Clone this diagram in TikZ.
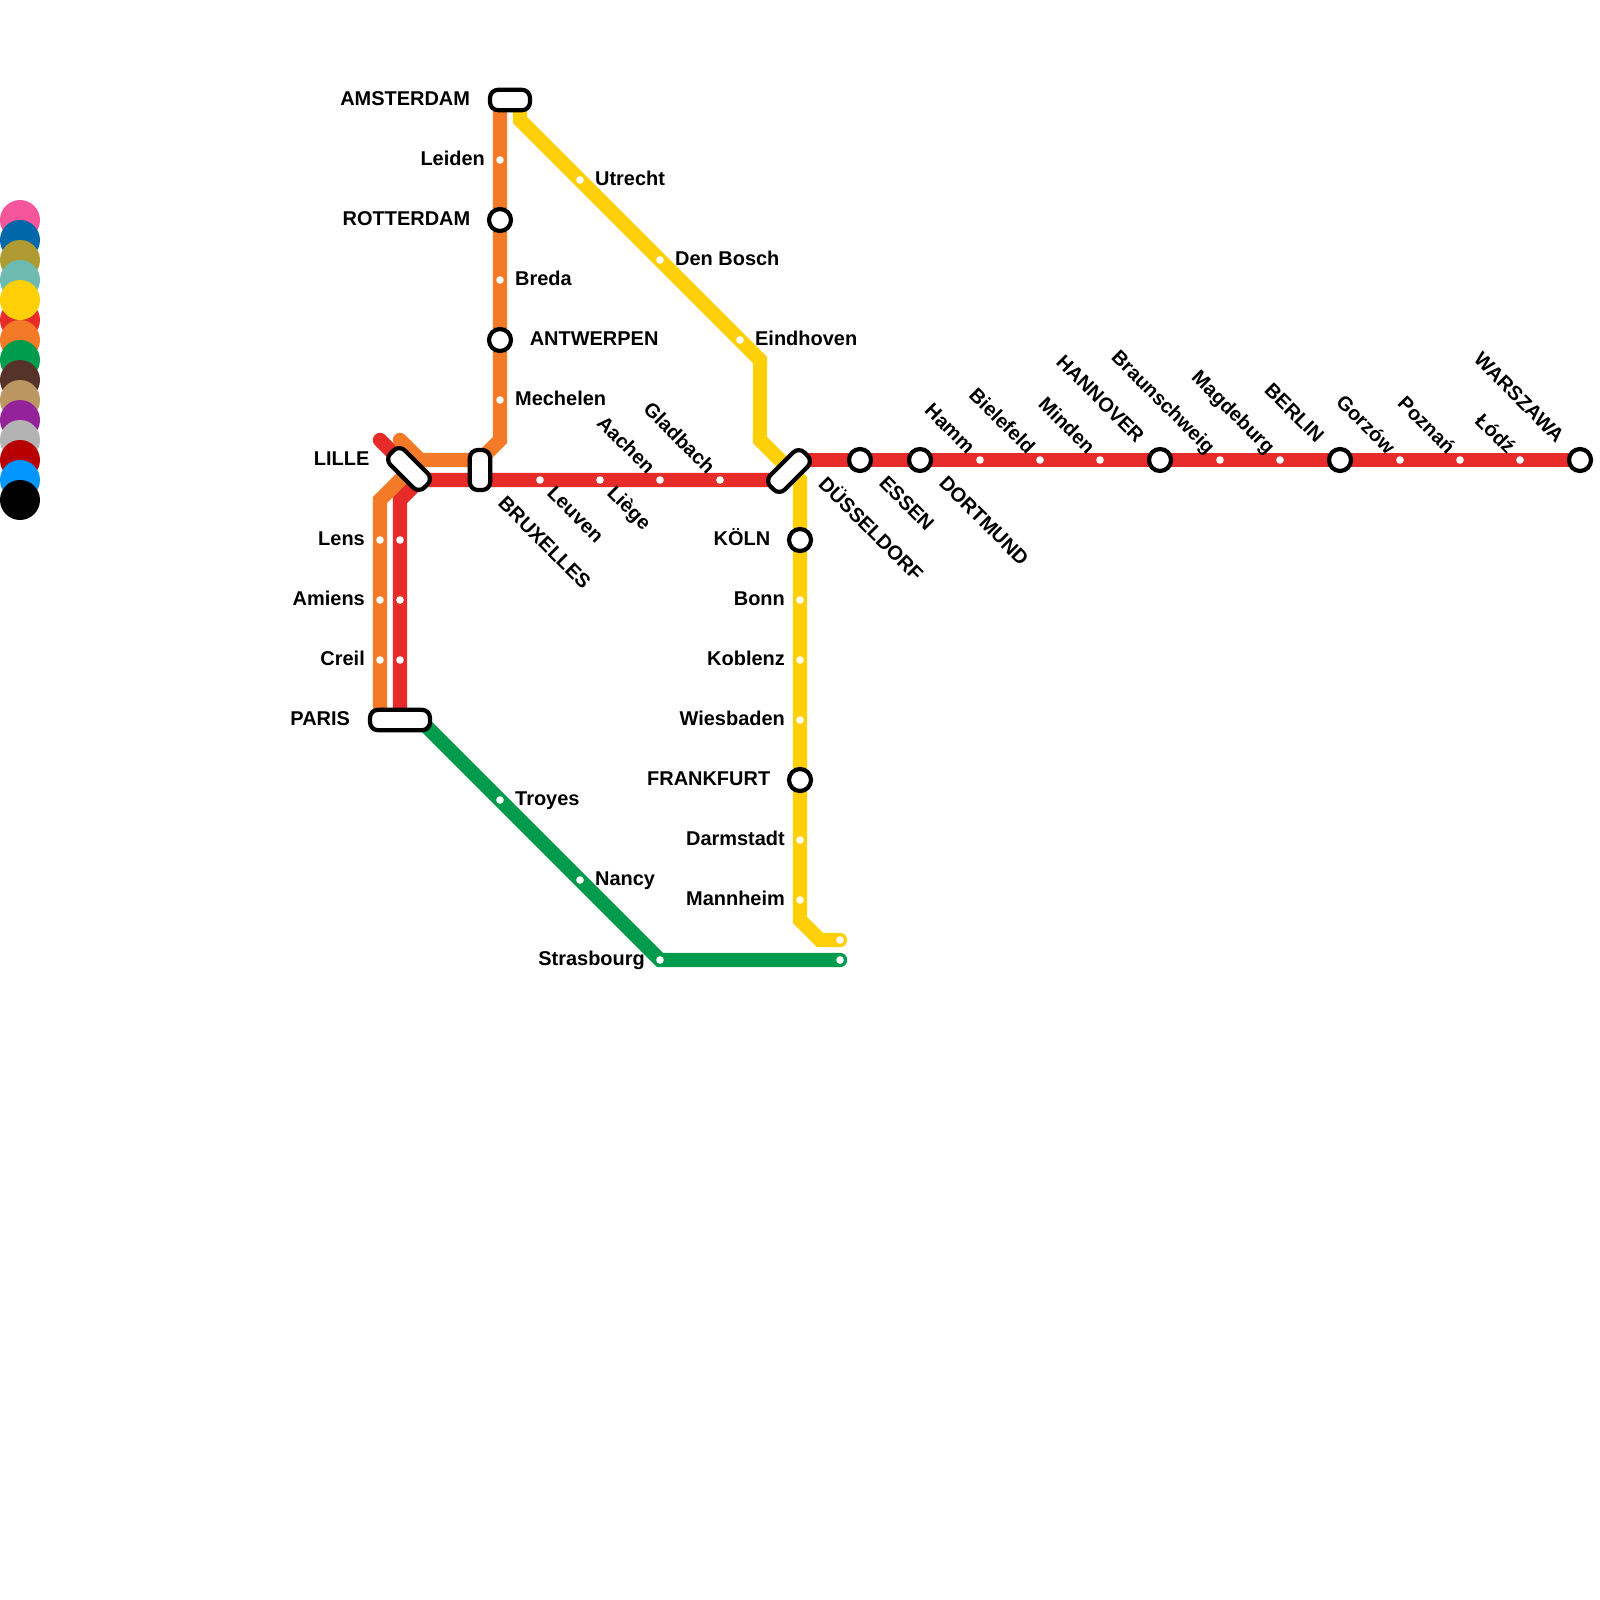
\documentclass[tikz,border=0pt]{standalone}
\usepackage{fontspec}
\setmainfont{Liberation Sans}
\usetikzlibrary{positioning,backgrounds}
\definecolor{pink}{HTML}{F4559B}
\definecolor{blue}{HTML}{0067A8}
\definecolor{olive}{HTML}{B09B33}
\definecolor{teal}{HTML}{6DBBB0}
\definecolor{yellow}{HTML}{FFD007}
\definecolor{red}{HTML}{E62B28}
\definecolor{orange}{HTML}{F47A28}
\definecolor{green}{HTML}{009C4D}
\definecolor{brown}{HTML}{55332B}
\definecolor{tan}{HTML}{BC9660}
\definecolor{purple}{HTML}{93229B}
\definecolor{grey}{HTML}{B3B3B3}
\definecolor{darkred}{HTML}{B90000}
\definecolor{skyblue}{HTML}{0095FF}
\tikzset{route/.style={line width=0.36cm,line cap=round,miter limit=4},
  swatch/.style={circle,minimum size=1cm,inner sep=0pt},
  halt/.style={circle,fill=white,minimum size=0.19cm,inner sep=0pt},
  hub/.style={circle,draw=black,line width=0.105cm,fill=white,minimum size=0.55cm,inner sep=0pt},
  pill/.style={rectangle,rounded corners=0.2cm,draw=black,line width=0.105cm,fill=white,minimum height=0.51cm,inner sep=0pt},
  lbl/.style={font=\fontsize{14.2}{16}\bfseries,text=black,inner sep=0pt,text height=0.36cm,text depth=0pt},
  lblside/.style={lbl,yshift=0.05cm},
  lbldown/.style={lbl,rotate=-45,anchor=west},
  lblup/.style={lbl,rotate=-45,anchor=east}}
\begin{document}
\begin{tikzpicture}[x=0.5cm,y=-0.5cm]
\useasboundingbox (0,0) rectangle (80,80);
% legend
\node[swatch,fill=pink] (swatchpink) at (1,11) {};
\node[swatch,fill=blue] (swatchblue) at (1,12) {};
\node[swatch,fill=olive] (swatcholive) at (1,13) {};
\node[swatch,fill=teal] (swatchteal) at (1,14) {};
\node[swatch,fill=red] (swatchred) at (1,16) {};
\node[swatch,fill=yellow] (swatchyellow) at (1,15) {};
\node[swatch,fill=orange] (swatchorange) at (1,17) {};
\node[swatch,fill=green] (swatchgreen) at (1,18) {};
\node[swatch,fill=brown] (swatchbrown) at (1,19) {};
\node[swatch,fill=tan] (swatchtan) at (1,20) {};
\node[swatch,fill=purple] (swatchpurple) at (1,21) {};
\node[swatch,fill=grey] (swatchgrey) at (1,22) {};
\node[swatch,fill=darkred] (swatchdarkred) at (1,23) {};
\node[swatch,fill=skyblue] (swatchskyblue) at (1,24) {};
\node[swatch,fill=black] (swatchblack) at (1,25) {};
% interchanges
\node[pill,minimum width=1.0cm] (amsterdam) at (25.5,5) {};
\node[pill,minimum width=1.2cm,rotate=-45] (lille) at (20.45,23.45) {};
\node[pill,minimum width=1.0cm,rotate=90] (bruxelles) at (24,23.5) {};
\node[pill,minimum width=1.2cm,rotate=45] (dusseldorf) at (39.45,23.55) {};
\node[pill,minimum width=1.5cm] (paris) at (20,36) {};
\coordinate (amsterdamw) at (25,5);
\coordinate (amsterdame) at (26,5);
\coordinate (lillenw) at (20,23);
\coordinate (lillese) at (21,24);
\coordinate (bruxellesn) at (24,23);
\coordinate (bruxelless) at (24,24);
\coordinate (dusseldorfsw) at (39,24);
\coordinate (dusseldorfne) at (40,23);
\coordinate (parisw) at (19,36);
\coordinate (parisc) at (20,36);
\coordinate (parise) at (21,36);
\coordinate (redstub) at (19,22);
\coordinate (orangestub) at (20,22);
% orange and red through France
\node[halt] (lensa) at (19,27) {};
\node[halt] (amiensa) at (19,30) {};
\node[halt] (creila) at (19,33) {};
\node[halt] (lensb) at (20,27) {};
\node[halt] (amiensb) at (20,30) {};
\node[halt] (creilb) at (20,33) {};
\node[lblside,left=0.27cm of lensa] (lenslbl) {Lens};
\node[lblside,left=0.27cm of amiensa] (amienslbl) {Amiens};
\node[lblside,left=0.27cm of creila] (creillbl) {Creil};
\node[lblside,left=0.44cm of paris] (parislbl) {PARIS};
\node[lblside,left=0.76cm of lillenw] (lillelbl) {LILLE};
\node[lbldown,xshift=0.91cm,yshift=-0.13cm] (bruxelleslbl) at (bruxelles) {BRUXELLES};
% orange to Amsterdam
\node[halt] (leiden) at (25,8) {};
\node[hub] (rotterdam) at (25,11) {};
\node[halt] (breda) at (25,14) {};
\node[hub] (antwerpen) at (25,17) {};
\node[halt] (mechelen) at (25,20) {};
\node[lblside,left=0.44cm of amsterdam] (amsterdamlbl) {AMSTERDAM};
\node[lblside,left=0.27cm of leiden] (leidenlbl) {Leiden};
\node[lblside,left=0.41cm of rotterdam] (rotterdamlbl) {ROTTERDAM};
\node[lblside,right=0.27cm of breda] (bredalbl) {Breda};
\node[lblside,right=0.41cm of antwerpen] (antwerpenlbl) {ANTWERPEN};
\node[lblside,right=0.27cm of mechelen] (mechelenlbl) {Mechelen};
% red to Warszawa
\node[halt] (leuven) at (27,24) {};
\node[halt] (liege) at (30,24) {};
\node[halt] (aachen) at (33,24) {};
\node[halt] (gladbach) at (36,24) {};
\node[hub] (essen) at (43,23) {};
\node[hub] (dortmund) at (46,23) {};
\node[halt] (hamm) at (49,23) {};
\node[halt] (bielefeld) at (52,23) {};
\node[halt] (minden) at (55,23) {};
\node[hub] (hannover) at (58,23) {};
\node[halt] (braunschweig) at (61,23) {};
\node[halt] (magdeburg) at (64,23) {};
\node[hub] (berlin) at (67,23) {};
\node[halt] (gorzow) at (70,23) {};
\node[halt] (poznan) at (73,23) {};
\node[halt] (lodz) at (76,23) {};
\node[hub] (warszawa) at (79,23) {};
\node[lbldown,xshift=0.35cm,yshift=0.035cm] (leuvenlbl) at (leuven) {Leuven};
\node[lbldown,xshift=0.35cm,yshift=0.035cm] (liegelbl) at (liege) {Liège};
\node[lblup,xshift=-0.315cm,yshift=0.035cm] (aachenlbl) at (aachen) {Aachen};
\node[lblup,xshift=-0.315cm,yshift=0.035cm] (gladbachlbl) at (gladbach) {Gladbach};
\node[lbldown,xshift=0.75cm,yshift=0.43cm] (dusseldorflbl) at (dusseldorf) {DÜSSELDORF};
\node[lbldown,xshift=0.74cm,yshift=0.07cm] (essenlbl) at (essen) {ESSEN};
\node[lbldown,xshift=0.74cm,yshift=0.07cm] (dortmundlbl) at (dortmund) {DORTMUND};
\node[lblup,xshift=-0.315cm,yshift=0.035cm] (hammlbl) at (hamm) {Hamm};
\node[lblup,xshift=-0.315cm,yshift=0.035cm] (bielefeldlbl) at (bielefeld) {Bielefeld};
\node[lblup,xshift=-0.315cm,yshift=0.035cm] (mindenlbl) at (minden) {Minden};
\node[lblup,xshift=-0.7cm,yshift=0.035cm] (hannoverlbl) at (hannover) {HANNOVER};
\node[lblup,xshift=-0.315cm,yshift=0.035cm] (braunschweiglbl) at (braunschweig) {Braunschweig};
\node[lblup,xshift=-0.315cm,yshift=0.035cm] (magdeburglbl) at (magdeburg) {Magdeburg};
\node[lblup,xshift=-0.7cm,yshift=0.035cm] (berlinlbl) at (berlin) {BERLIN};
\node[lblup,xshift=-0.315cm,yshift=0.035cm] (gorzowlbl) at (gorzow) {Gorzów};
\node[lblup,xshift=-0.315cm,yshift=0.035cm] (poznanlbl) at (poznan) {Poznań};
\node[lblup,xshift=-0.315cm,yshift=0.035cm] (lodzlbl) at (lodz) {Łódź};
\node[lblup,xshift=-0.7cm,yshift=0.035cm] (warszawalbl) at (warszawa) {WARSZAWA};
% yellow
\node[halt] (utrecht) at (29,9) {};
\node[halt] (denbosch) at (33,13) {};
\node[halt] (eindhoven) at (37,17) {};
\node[hub] (koln) at (40,27) {};
\node[halt] (bonn) at (40,30) {};
\node[halt] (koblenz) at (40,33) {};
\node[halt] (wiesbaden) at (40,36) {};
\node[hub] (frankfurt) at (40,39) {};
\node[halt] (darmstadt) at (40,42) {};
\node[halt] (mannheim) at (40,45) {};
\node[halt] (yellowend) at (42,47) {};
\node[lblside,right=0.27cm of utrecht] (utrechtlbl) {Utrecht};
\node[lblside,right=0.27cm of denbosch] (denboschlbl) {Den Bosch};
\node[lblside,right=0.27cm of eindhoven] (eindhovenlbl) {Eindhoven};
\node[lblside,left=0.41cm of koln] (kolnlbl) {KÖLN};
\node[lblside,left=0.27cm of bonn] (bonnlbl) {Bonn};
\node[lblside,left=0.27cm of koblenz] (koblenzlbl) {Koblenz};
\node[lblside,left=0.27cm of wiesbaden] (wiesbadenlbl) {Wiesbaden};
\node[lblside,left=0.41cm of frankfurt] (frankfurtlbl) {FRANKFURT};
\node[lblside,left=0.27cm of darmstadt] (darmstadtlbl) {Darmstadt};
\node[lblside,left=0.27cm of mannheim] (mannheimlbl) {Mannheim};
% green
\node[halt] (troyes) at (25,40) {};
\node[halt] (nancy) at (29,44) {};
\node[halt] (strasbourg) at (33,48) {};
\node[halt] (greenend) at (42,48) {};
\node[lblside,right=0.27cm of troyes] (troyeslbl) {Troyes};
\node[lblside,right=0.27cm of nancy] (nancylbl) {Nancy};
\node[lblside,left=0.27cm of strasbourg] (strasbourglbl) {Strasbourg};
% routes
\begin{scope}[on background layer]
\draw[route,draw=red] (redstub) -- (lillese) -- (dusseldorfsw);
\draw[route,draw=red] (lillese) -- ++(-1,1) -- (parisc);
\draw[route,draw=red] (dusseldorfne) -- (warszawa.center);
\draw[route,draw=orange] (amsterdamw) -- (antwerpen.center) -- ++(0,5) -- ++(-1,1) -- ++(-3,0) -- (orangestub);
\draw[route,draw=orange] (lillenw) ++(0.5,0.5) -- ++(-1.5,1.5) -- (parisw);
\draw[route,draw=yellow] (amsterdame) -- ++(0,1) -- ++(12,12) -- ++(0,4) -- ++(2,2) -- ++(0,22) -- ++(1,1) -- (yellowend.center);
\draw[route,draw=green] (parise) -- (strasbourg.center) -- (greenend.center);
\end{scope}
\end{tikzpicture}
\end{document}
